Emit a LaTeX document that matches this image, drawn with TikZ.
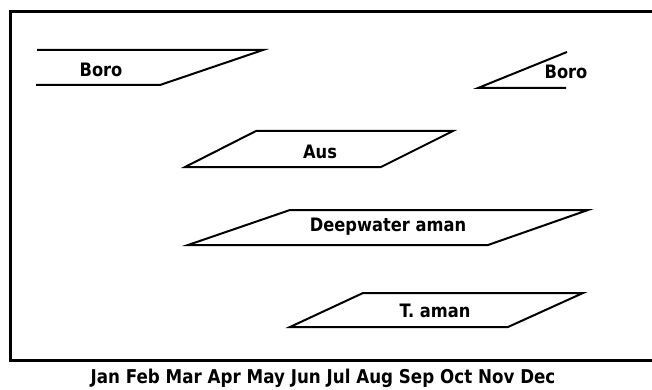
\documentclass[tikz,border=0pt]{standalone}
\usepackage{fontspec}
\setmainfont{DejaVu Sans}
\newcommand{\narrowtxt}[1]{\scalebox{0.88}[1]{#1}}
\begin{document}
\begin{tikzpicture}[x=1pt,y=-1pt,
  band/.style={line width=2pt,line join=miter},
  lbl/.style={inner sep=0pt,font=\bfseries\fontsize{18.5}{20}\selectfont},
  months/.style={inner sep=0pt,font=\bfseries\fontsize{19}{21}\selectfont}]
\useasboundingbox (0,0) rectangle (652,390);
% frame
\draw[line width=3pt] (654,12) -- (10,12) -- (10,360) -- (654,360);
% Boro (left)
\draw[band] (37,50) -- (263,50) -- (160,85) -- (36,85);
\node[lbl] (boro1) at (101,70) {\narrowtxt{Boro}};
% Boro (right)
\draw[band] (567,52) -- (478,88) -- (566,88);
\node[lbl] (boro2) at (566,72) {\narrowtxt{Boro}};
% Aus
\draw[band] (256,131) -- (453,131) -- (381,167) -- (185,167) -- cycle;
\node[lbl] (aus) at (320,152) {\narrowtxt{Aus}};
% Deepwater aman
\draw[band] (290,210) -- (588,210) -- (488,245) -- (188,245) -- cycle;
\node[lbl] (dwa) at (388,227) {\narrowtxt{Deepwater aman}};
% T. aman
\draw[band] (363,293) -- (583,293) -- (508,327) -- (290,327) -- cycle;
\node[lbl] (taman) at (435,311) {\narrowtxt{T. aman}};
% months
\node[months] (m) at (323,378) {\narrowtxt{Jan Feb Mar Apr May Jun Jul Aug Sep Oct Nov Dec}};
\end{tikzpicture}
\end{document}
